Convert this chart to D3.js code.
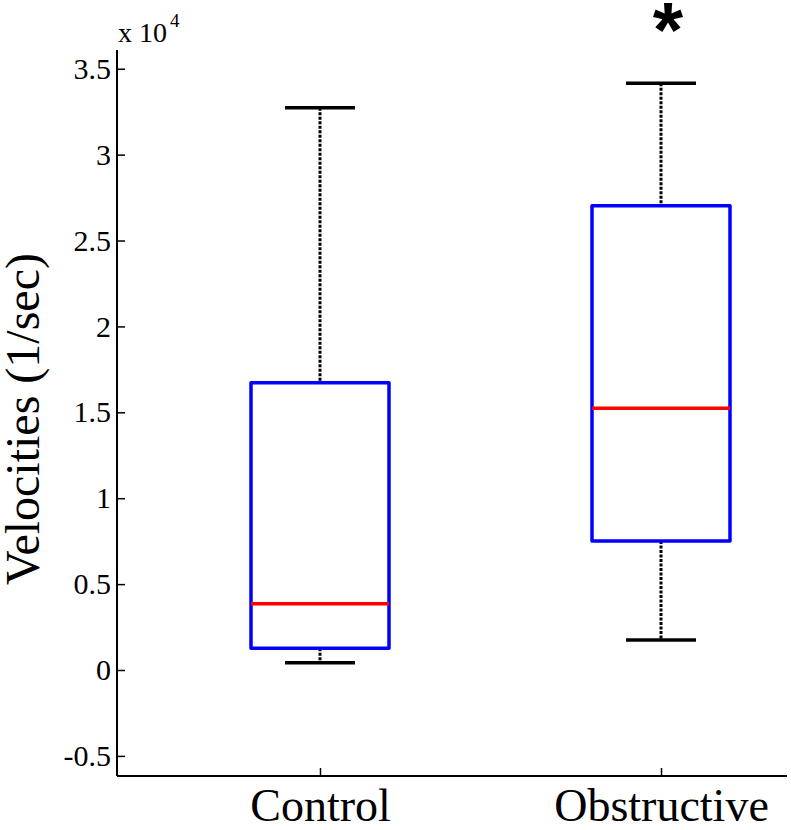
<!DOCTYPE html>
<html>
<head>
<meta charset="utf-8">
<script src="https://cdn.jsdelivr.net/npm/d3@7"></script>
<style>
  html, body { margin: 0; padding: 0; background: #fff; }
  svg { display: block; }
</style>
</head>
<body>
<svg id="chart" width="791" height="830"></svg>
<script>
// ---- data (values in units of 10^4 1/sec) ----
const categories = ["Control", "Obstructive"];
const whiskerLow  = [0.042, 0.175];
const q1          = [0.126, 0.751];
const medians     = [0.386, 1.523];
const q3          = [1.672, 2.703];
const whiskerHigh = [3.273, 3.415];
const yTickValues = [-0.5, 0, 0.5, 1, 1.5, 2, 2.5, 3, 3.5];
const yTickLabels = ["-0.5", "0", "0.5", "1", "1.5", "2", "2.5", "3", "3.5"];
const significance = ["", "*"];

const svg = d3.select("#chart");
const serif = "'Liberation Serif', 'Times New Roman', serif";

const axisLeftX = 117, axisRightX = 787;
const plotTop = 50, plotBottom = 776;

const y = d3.scaleLinear().domain([-0.617, 3.609]).range([plotBottom, plotTop]);
const x = d3.scalePoint().domain(categories).range([320, 661]);

const boxHalf = 69, capHalf = 35;

const data = categories.map((c, i) => ({
  c, lo: whiskerLow[i], q1: q1[i], med: medians[i], q3: q3[i], hi: whiskerHigh[i], sig: significance[i]
}));

// ---- axes ----
const yAxis = d3.axisLeft(y).tickValues(yTickValues)
  .tickFormat((d, i) => yTickLabels[i]).tickSize(-8).tickPadding(6).tickSizeOuter(0);
const gy = svg.append("g").attr("transform", `translate(${axisLeftX},0)`).call(yAxis);
gy.select(".domain").remove();
gy.selectAll(".tick line").attr("stroke", "#000").attr("stroke-width", 1.5);
gy.selectAll(".tick text").attr("font-family", serif).attr("font-size", 30).attr("fill", "#000");

const xAxis = d3.axisBottom(x).tickSize(-8).tickPadding(0).tickSizeOuter(0);
const gx = svg.append("g").attr("transform", `translate(0,${plotBottom})`).call(xAxis);
gx.select(".domain").remove();
gx.selectAll(".tick line").attr("stroke", "#000").attr("stroke-width", 1.5);
gx.selectAll(".tick text").attr("font-family", serif).attr("font-size", 46).attr("fill", "#000")
  .attr("y", 45).attr("dy", "0");

// axis lines
svg.append("line").attr("x1", axisLeftX).attr("x2", axisLeftX).attr("y1", plotTop).attr("y2", plotBottom)
  .attr("stroke", "#000").attr("stroke-width", 2);
svg.append("line").attr("x1", axisLeftX).attr("x2", axisRightX).attr("y1", plotBottom).attr("y2", plotBottom)
  .attr("stroke", "#000").attr("stroke-width", 2);

// exponent label
const expo = svg.append("text").attr("x", 118).attr("y", 42)
  .attr("font-family", serif).attr("font-size", 28).attr("fill", "#000");
expo.append("tspan").text("x 10");
expo.append("tspan").attr("font-size", 19).attr("dy", -15).attr("dx", 3).text("4");

// y label
svg.append("text")
  .attr("transform", `translate(39,419) rotate(-90)`)
  .attr("text-anchor", "middle")
  .attr("font-family", serif).attr("font-size", 48).attr("fill", "#000")
  .text("Velocities (1/sec)");

// ---- boxes ----
const g = svg.append("g");
const bx = g.selectAll("g.box").data(data).join("g").attr("class", "box");

// whiskers (dotted)
bx.append("line").attr("x1", d => x(d.c)).attr("x2", d => x(d.c))
  .attr("y1", d => y(d.hi)).attr("y2", d => y(d.q3))
  .attr("stroke", "#000").attr("stroke-width", 3).attr("stroke-dasharray", "3,1.5");
bx.append("line").attr("x1", d => x(d.c)).attr("x2", d => x(d.c))
  .attr("y1", d => y(d.q1)).attr("y2", d => y(d.lo))
  .attr("stroke", "#000").attr("stroke-width", 3).attr("stroke-dasharray", "3,1.5");
// caps
bx.append("line").attr("x1", d => x(d.c) - capHalf).attr("x2", d => x(d.c) + capHalf)
  .attr("y1", d => y(d.hi)).attr("y2", d => y(d.hi))
  .attr("stroke", "#000").attr("stroke-width", 3.5);
bx.append("line").attr("x1", d => x(d.c) - capHalf).attr("x2", d => x(d.c) + capHalf)
  .attr("y1", d => y(d.lo)).attr("y2", d => y(d.lo))
  .attr("stroke", "#000").attr("stroke-width", 3.5);
// box
bx.append("rect")
  .attr("x", d => x(d.c) - boxHalf).attr("width", boxHalf * 2)
  .attr("y", d => y(d.q3)).attr("height", d => y(d.q1) - y(d.q3))
  .attr("fill", "none").attr("stroke", "#0000ff").attr("stroke-width", 3.5)
  .attr("stroke-linejoin", "round");
// median
bx.append("line").attr("x1", d => x(d.c) - boxHalf).attr("x2", d => x(d.c) + boxHalf)
  .attr("y1", d => y(d.med)).attr("y2", d => y(d.med))
  .attr("stroke", "#ff0000").attr("stroke-width", 3.5);
// significance star
bx.append("text").attr("x", d => x(d.c) + 7).attr("y", 57)
  .attr("text-anchor", "middle")
  .attr("font-family", "'Liberation Sans', Arial, sans-serif").attr("font-weight", "bold")
  .attr("font-size", 78).attr("fill", "#000")
  .text(d => d.sig);
</script>
</body>
</html>
